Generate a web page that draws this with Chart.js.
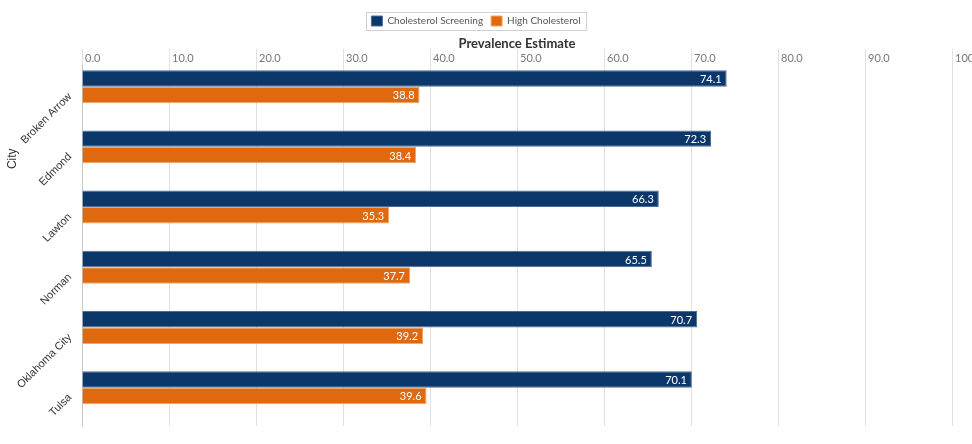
<!DOCTYPE html>
<html lang="en">
<head>
<meta charset="UTF-8">
<title>Cholesterol by City</title>
<script src="https://cdn.jsdelivr.net/npm/chart.js@4.4.0/dist/chart.umd.min.js"></script>
<style>
    body { margin: 0; background: #fff; }
    #wrap { width: 972px; height: 444px; position: relative; }
</style>
</head>
<body>
<div id="wrap"><canvas id="chart"></canvas></div>
<script>
const cities = ['Broken Arrow', 'Edmond', 'Lawton', 'Norman', 'Oklahoma City', 'Tulsa'];
const screening = [74.1, 72.3, 66.3, 65.5, 70.7, 70.1];
const highChol = [38.8, 38.4, 35.3, 37.7, 39.2, 39.6];
const seriesNames = ['Cholesterol Screening', 'High Cholesterol'];
const xMin = 0, xMax = 100, xStep = 10;

const BLUE = '#0b376b';
const ORANGE = '#e0680e';

// white value labels at the end of each bar
const valueLabels = {
    id: 'valueLabels',
    afterDraw(chart) {
        const ctx = chart.ctx;
        ctx.save();
        ctx.font = '11px Lato';
        ctx.fillStyle = '#fff';
        ctx.textAlign = 'right';
        ctx.textBaseline = 'middle';
        [0, 1].forEach(di => {
            const meta = chart.getDatasetMeta(di);
            meta.data.forEach((bar, i) => {
                const v = chart.data.datasets[di].data[i];
                ctx.fillText(v.toFixed(1), bar.x - 5, bar.y + 1);
            });
        });
        ctx.restore();
    }
};

// frame around legend + "City" title
const extras = {
    id: 'extras',
    afterDraw(chart) {
        const ctx = chart.ctx;
        const boxes = chart.legend.legendHitBoxes;
        if (boxes && boxes.length) {
            const l = Math.min(...boxes.map(b => b.left)) - 5;
            const r = Math.max(...boxes.map(b => b.left + b.width)) + 6;
            const t = Math.min(...boxes.map(b => b.top)) - 4;
            const btm = Math.max(...boxes.map(b => b.top + b.height)) + 4;
            ctx.save();
            ctx.strokeStyle = '#d0d0d0';
            ctx.lineWidth = 1;
            ctx.strokeRect(Math.round(l) + 0.5, Math.round(t) + 0.5, Math.round(r - l), Math.round(btm - t));
            ctx.restore();
        }
        const area = chart.chartArea;
        ctx.save();
        ctx.translate(13, area.top + (area.bottom - area.top) * 0.26);
        ctx.rotate(-Math.PI / 2);
        ctx.font = '12px "Liberation Sans"';
        ctx.fillStyle = '#333';
        ctx.textAlign = 'center';
        ctx.textBaseline = 'middle';
        ctx.fillText('City', 0, 0);
        ctx.restore();
    }
};

new Chart(document.getElementById('chart'), {
    type: 'bar',
    data: {
        labels: cities,
        datasets: [
            { label: seriesNames[0], data: screening, backgroundColor: BLUE, borderColor: '#4d6d96', borderWidth: 1 },
            { label: seriesNames[1], data: highChol, backgroundColor: ORANGE, borderColor: '#f2a565', borderWidth: 1 },
            { label: '', data: cities.map(() => null), backgroundColor: 'transparent' }
        ]
    },
    options: {
        indexAxis: 'y',
        responsive: true,
        maintainAspectRatio: false,
        animation: false,
        categoryPercentage: 0.82,
        barPercentage: 1.0,
        layout: { padding: { top: 8, right: 20, bottom: 18, left: 0 } },
        plugins: {
            legend: {
                position: 'top',
                labels: {
                    boxWidth: 11,
                    boxHeight: 10,
                    padding: 8,
                    color: '#555',
                    font: { family: 'Lato', size: 10 },
                    filter: item => item.datasetIndex < 2
                }
            },
            tooltip: { enabled: false }
        },
        scales: {
            x: {
                position: 'top',
                min: xMin,
                max: xMax,
                z: 1,
                afterFit(scale) { scale.paddingRight = 0; scale.paddingLeft = 0; },
                ticks: {
                    stepSize: xStep,
                    align: 'start',
                    labelOffset: 3,
                    padding: -16,
                    color: '#777',
                    font: { family: 'Lato', size: 11 },
                    callback: v => v.toFixed(1)
                },
                grid: { color: 'rgba(190,190,190,0.45)', tickLength: 16 },
                border: { display: false },
                title: {
                    display: true,
                    text: 'Prevalence Estimate',
                    color: '#333',
                    font: { family: 'Lato', size: 13, weight: 'bold' },
                    padding: { top: 0, bottom: 16 }
                }
            },
            y: {
                afterFit(scale) { scale.width = 82; },
                grid: { display: false },
                border: { display: true, color: '#c8c8c8' },
                ticks: {
                    minRotation: 45,
                    maxRotation: 45,
                    padding: 4,
                    color: '#333',
                    font: { family: 'Liberation Sans', size: 11 }
                }
            }
        }
    },
    plugins: [valueLabels, extras]
});
</script>
</body>
</html>
